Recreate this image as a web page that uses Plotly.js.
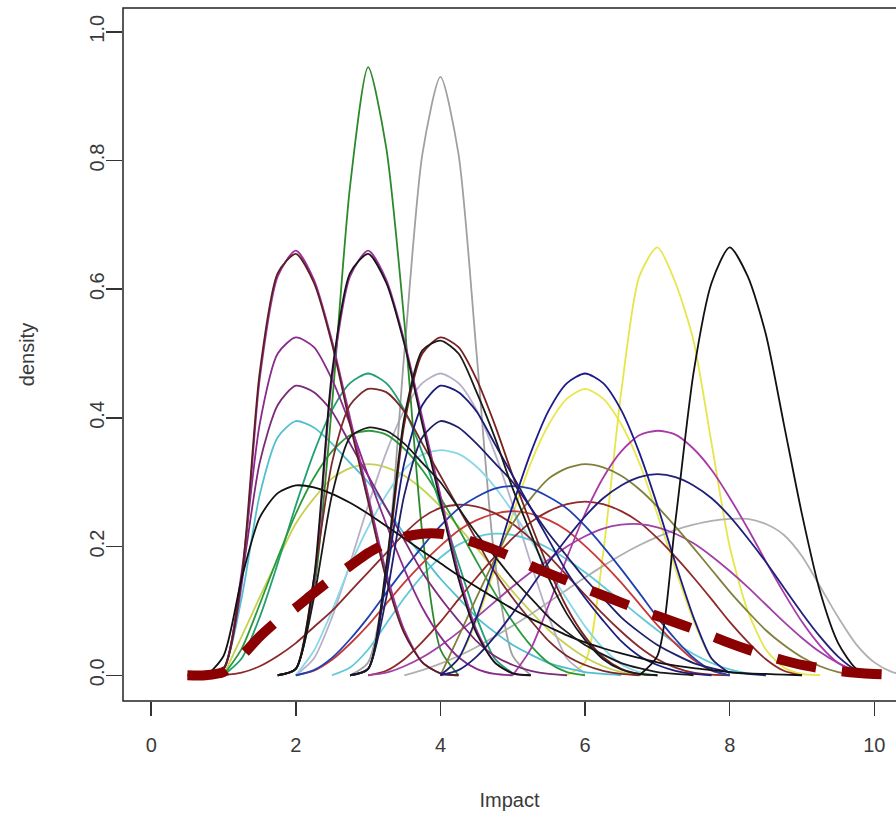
<!DOCTYPE html>
<html>
<head>
<meta charset="utf-8">
<script src="https://cdn.plot.ly/plotly-3.0.1.min.js"></script>
<style>html,body{margin:0;padding:0;background:#fff;}#chart{width:896px;height:819px;}</style>
</head>
<body>
<div id="chart"></div>
<script>
// Shared x grid (Impact)
const X = [0.5,0.75,1,1.25,1.5,1.75,2,2.25,2.5,2.75,3,3.25,3.5,3.75,4,4.25,4.5,4.75,5,5.25,5.5,5.75,6,6.25,6.5,6.75,7,7.25,7.5,7.75,8,8.25,8.5,8.75,9,9.25,9.5,9.75,10,10.25,10.5];

// Density curves: start x and density values (step 0.25)
const green_a = {x0:1.75, y:[0,0.01,0.13,0.42,0.76,0.945,0.82,0.55,0.22,0.04,0]};
const gray_a  = {x0:2.75, y:[0,0.02,0.16,0.5,0.81,0.93,0.81,0.5,0.18,0.03,0]};
const mag_a   = {x0:0.75, y:[0,0.01,0.14,0.46,0.62,0.66,0.615,0.52,0.40,0.28,0.16,0.07,0.02,0.003,0]};
const dred_a  = {x0:0.75, y:[0,0.01,0.15,0.47,0.625,0.655,0.61,0.515,0.39,0.27,0.15,0.065,0.02,0.003,0]};
const mag_b   = {x0:1.75, y:[0,0.01,0.14,0.46,0.62,0.66,0.615,0.52,0.40,0.28,0.16,0.07,0.02,0.003,0]};
const blk_b   = {x0:1.75, y:[0,0.01,0.15,0.47,0.625,0.655,0.61,0.515,0.39,0.27,0.15,0.065,0.02,0.003,0]};
const yel_a   = {x0:5.75, y:[0,0.02,0.19,0.44,0.62,0.665,0.61,0.52,0.36,0.2,0.1,0.04,0.012,0.002,0]};
const blk_a   = {x0:6.75, y:[0,0.03,0.24,0.47,0.61,0.665,0.62,0.53,0.39,0.25,0.13,0.05,0.01,0]};
const mag_c   = {x0:0.75, y:[0,0.01,0.16,0.39,0.50,0.525,0.51,0.46,0.39,0.31,0.235,0.165,0.105,0.06,0.028,0.01,0.002,0]};
const mag_d   = {x0:0.75, y:[0,0.01,0.15,0.33,0.42,0.45,0.44,0.41,0.36,0.31,0.26,0.21,0.16,0.12,0.085,0.053,0.03,0.016,0.007,0.002,0]};
const cyan_a  = {x0:0.75, y:[0,0.01,0.12,0.28,0.37,0.395,0.385,0.36,0.33,0.30,0.26,0.22,0.185,0.15,0.12,0.09,0.067,0.047,0.032,0.019,0.011,0.005,0.002,0]};
const blk_c   = {x0:0.5,  y:[0,0,0.03,0.15,0.245,0.283,0.295,0.292,0.282,0.268,0.251,0.232,0.213,0.193,0.174,0.155,0.137,0.12,0.103,0.088,0.075,0.062,0.051,0.042,0.034,0.027,0.02,0.015,0.011,0.008,0.005,0.003,0.002,0.001,0]};
const teal_a  = {x0:1.0,  y:[0,0.026,0.09,0.174,0.264,0.346,0.412,0.454,0.469,0.454,0.412,0.346,0.264,0.174,0.09,0.026,0.003]};
const grn_b   = {x0:1.0,  y:[0,0.041,0.110,0.183,0.251,0.307,0.348,0.373,0.38,0.374,0.352,0.319,0.276,0.228,0.177,0.128,0.083,0.046,0.019,0.005,0]};
const dred_b  = {x0:1.75, y:[0,0.01,0.15,0.33,0.42,0.445,0.44,0.41,0.36,0.31,0.26,0.21,0.16,0.12,0.085,0.053,0.03,0.016,0.007,0.002,0]};
const blk_d   = {x0:1.75, y:[0,0.01,0.12,0.28,0.37,0.385,0.38,0.36,0.33,0.30,0.26,0.22,0.185,0.15,0.12,0.09,0.067,0.047,0.032,0.019,0.011,0.005,0.002,0]};
const ylw_b   = {x0:1.0,  y:[0,0.06,0.121,0.18,0.236,0.275,0.306,0.322,0.328,0.323,0.31,0.289,0.262,0.231,0.198,0.164,0.13,0.099,0.07,0.047,0.028,0.014,0.005,0.001,0]};
const dred_c  = {x0:2.75, y:[0,0.01,0.16,0.39,0.50,0.525,0.51,0.46,0.39,0.31,0.235,0.165,0.105,0.06,0.028,0.01,0.002,0]};
const blk_e   = {x0:2.75, y:[0,0.01,0.17,0.40,0.505,0.52,0.50,0.44,0.37,0.29,0.22,0.15,0.095,0.055,0.025,0.009,0.002,0]};
const navy_a  = {x0:2.75, y:[0,0.01,0.15,0.33,0.42,0.45,0.44,0.41,0.36,0.31,0.26,0.21,0.16,0.12,0.085,0.053,0.03,0.016,0.007,0.002,0]};
const navy_b  = {x0:2.75, y:[0,0.01,0.12,0.28,0.37,0.395,0.385,0.36,0.33,0.30,0.26,0.22,0.185,0.15,0.12,0.09,0.067,0.047,0.032,0.019,0.011,0.005,0.002,0]};
const lgray_a = {x0:2.0,  y:[0,0.026,0.09,0.174,0.264,0.346,0.412,0.454,0.469,0.454,0.412,0.346,0.264,0.174,0.09,0.026,0.003]};
const lcyan_a = {x0:2.0,  y:[0,0.038,0.10,0.17,0.23,0.28,0.32,0.343,0.35,0.344,0.324,0.293,0.254,0.21,0.163,0.118,0.076,0.042,0.017,0.005,0]};
const navy_c  = {x0:4.0,  y:[0,0.026,0.09,0.174,0.264,0.346,0.412,0.454,0.469,0.454,0.412,0.346,0.264,0.174,0.09,0.026,0.003]};
const yel_c   = {x0:4.0,  y:[0,0.025,0.085,0.165,0.25,0.33,0.39,0.43,0.445,0.43,0.39,0.33,0.25,0.165,0.085,0.025,0.003]};
const mag_e   = {x0:5.0,  y:[0,0.041,0.110,0.183,0.251,0.307,0.348,0.373,0.38,0.374,0.352,0.319,0.276,0.228,0.177,0.128,0.083,0.046,0.019,0.005,0]};
const olive_a = {x0:4.0,  y:[0,0.06,0.121,0.18,0.236,0.275,0.306,0.322,0.328,0.323,0.31,0.289,0.262,0.231,0.198,0.164,0.13,0.099,0.07,0.047,0.028,0.014,0.005,0.001,0]};
const navy_d  = {x0:4.0,  y:[0,0.008,0.029,0.06,0.0965,0.136,0.176,0.213,0.247,0.275,0.295,0.308,0.3125,0.308,0.295,0.275,0.247,0.213,0.176,0.136,0.0965,0.06,0.029,0.008,0]};
const gray_b  = {x0:3.5,  y:[0,0.008,0.018,0.03,0.044,0.06,0.077,0.095,0.114,0.133,0.152,0.17,0.187,0.202,0.215,0.226,0.234,0.24,0.243,0.243,0.235,0.218,0.185,0.138,0.09,0.048,0.02,0.005,0]};
const blue_a  = {x0:2.0,  y:[0,0.008,0.027,0.056,0.09,0.128,0.165,0.2,0.232,0.259,0.277,0.29,0.294,0.29,0.277,0.259,0.232,0.2,0.165,0.128,0.09,0.056,0.027,0.008,0]};
const dred_d  = {x0:1.0,  y:[0,0.004,0.014,0.03,0.05,0.075,0.1,0.13,0.16,0.19,0.22,0.245,0.26,0.265,0.262,0.252,0.235,0.212,0.185,0.155,0.125,0.095,0.068,0.044,0.025,0.012,0.004,0.001,0]};
const dred_e  = {x0:3.0,  y:[0,0.007,0.025,0.052,0.083,0.118,0.152,0.184,0.213,0.238,0.255,0.266,0.27,0.266,0.255,0.238,0.213,0.184,0.152,0.118,0.083,0.052,0.025,0.007,0]};
const mag_f   = {x0:3.0,  y:[0,0.004,0.014,0.028,0.046,0.067,0.09,0.114,0.138,0.16,0.18,0.2,0.216,0.228,0.234,0.235,0.23,0.22,0.205,0.185,0.162,0.137,0.11,0.083,0.058,0.036,0.019,0.007,0.001]};
const red_a   = {x0:2.0,  y:[0,0.007,0.024,0.049,0.078,0.111,0.144,0.174,0.201,0.225,0.241,0.251,0.255,0.251,0.241,0.225,0.201,0.174,0.144,0.111,0.078,0.049,0.024,0.007,0]};
const cyan_b  = {x0:2.5,  y:[0,0.012,0.04,0.08,0.12,0.155,0.183,0.203,0.215,0.22,0.218,0.21,0.197,0.18,0.16,0.138,0.115,0.092,0.07,0.05,0.033,0.019,0.009,0.003,0]};

// Mean density (thick dashed)
const meanY = [0,0,0.005,0.03,0.06,0.085,0.105,0.128,0.15,0.17,0.19,0.205,0.215,0.22,0.22,0.214,0.205,0.195,0.183,0.17,0.158,0.147,0.135,0.124,0.113,0.102,0.092,0.082,0.072,0.061,0.05,0.04,0.031,0.023,0.016,0.011,0.007,0.004,0.002,0.001,0];

// Drawing order and colours (styles kept separate)
const SERIES = [yel_c, yel_a, ylw_b, lgray_a, gray_a, gray_b, lcyan_a, cyan_b, cyan_a, teal_a, grn_b, green_a,
  red_a, dred_d, dred_e, mag_f, mag_e, olive_a, blue_a, mag_d, mag_c, mag_a, dred_a, mag_b, dred_b, dred_c,
  navy_d, navy_c, navy_b, navy_a, blk_c, blk_d, blk_b, blk_e, blk_a];
const COLORS = ['#e8e84a','#e6e64a','#c8d050','#b8b0c8','#a0a0a0','#b0b0b0','#88d8e8','#60c8d8','#50c0d0','#20a070','#2a9a3a','#2a8a2a',
  '#c83a3a','#8a2a2a','#902828','#a040a8','#a83aa8','#80803a','#2040b0','#7a2a7a','#8a2a8a','#a030a0','#5a2020','#a030a0','#7a2a2a','#7a2020',
  '#20207a','#1a1a8a','#20206a','#1c1c7c','#111111','#1a1a1a','#151515','#1a1a1a','#111111'];

const traces = SERIES.map((c, i) => {
  const start = X.indexOf(c.x0);
  return {
    type: 'scatter', mode: 'lines',
    x: X.slice(start, start + c.y.length), y: c.y,
    line: {color: COLORS[i], width: 1.8, shape: 'spline', smoothing: 0.7},
    hoverinfo: 'skip'
  };
});
traces.push({
  type: 'scatter', mode: 'lines', x: X, y: meanY,
  line: {color: '#8b0000', width: 10, dash: '40px,26px', shape: 'spline', smoothing: 0.7},
  hoverinfo: 'skip'
});

const FONT = 'Liberation Sans Narrow, Liberation Sans, Arial, sans-serif';
const layout = {
  width: 896, height: 819,
  margin: {l: 123, r: 0, t: 8, b: 118},
  paper_bgcolor: '#ffffff', plot_bgcolor: '#ffffff',
  showlegend: false,
  font: {family: FONT, size: 20, color: '#3a3a3a'},
  xaxis: {
    range: [-0.39, 10.30], tickvals: [0, 2, 4, 6, 8, 10],
    ticks: 'outside', ticklen: 14, tickwidth: 1.5, tickcolor: '#333',
    showgrid: false, zeroline: false, showline: false,
    tickfont: {family: FONT, size: 20, color: '#3a3a3a'},
    ticklabelstandoff: 12,
    title: {text: 'Impact', font: {family: FONT, size: 20, color: '#3a3a3a'}, standoff: 37}
  },
  yaxis: {
    range: [-0.04, 1.037], tickvals: [0, 0.2, 0.4, 0.6, 0.8, 1.0], tickformat: '.1f',
    tickangle: -90,
    ticks: 'outside', ticklen: 16, tickwidth: 1.5, tickcolor: '#333',
    showgrid: false, zeroline: false, showline: false,
    tickfont: {family: FONT, size: 20, color: '#3a3a3a'},
    ticklabelstandoff: -6,
    title: {text: 'density', font: {family: FONT, size: 20, color: '#3a3a3a'}, standoff: 46}
  },
  shapes: [{type: 'rect', xref: 'paper', yref: 'paper', x0: 0, x1: 1.05, y0: 0, y1: 1,
            line: {color: '#222', width: 1.5}}]
};

Plotly.newPlot('chart', traces, layout, {staticPlot: true, displayModeBar: false});
</script>
</body>
</html>
